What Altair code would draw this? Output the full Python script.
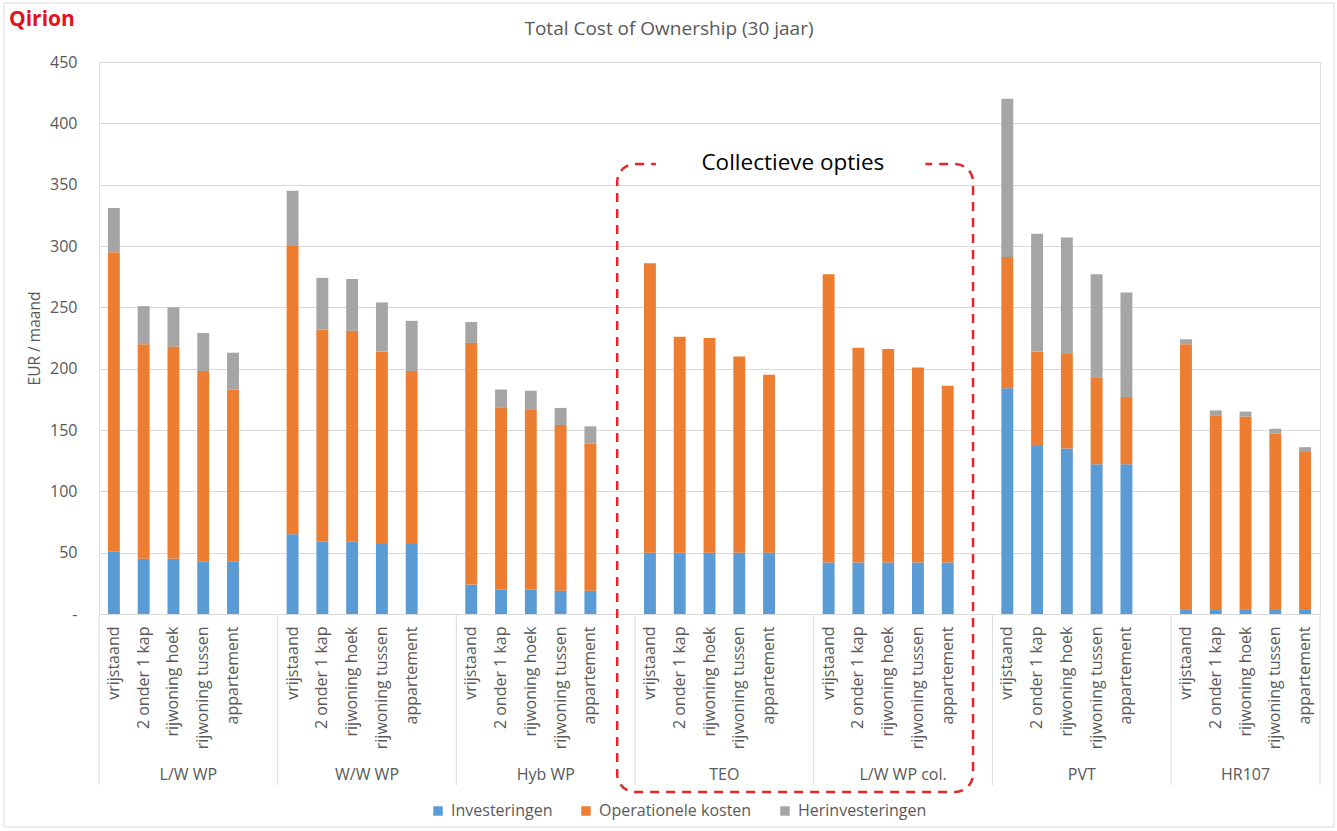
import altair as alt
import pandas as pd

groups = ["L/W WP", "W/W WP", "Hyb WP", "TEO", "L/W WP col.", "PVT", "HR107"]
housing = ["vrijstaand", "2 onder 1 kap", "rijwoning hoek", "rijwoning tussen", "appartement"]
series = ["Investeringen", "Operationele kosten", "Herinvesteringen"]
colors = ["#5b9bd5", "#ed7d31", "#a5a5a5"]

investeringen = [
    [51, 45, 45, 43, 43],
    [65, 59, 59, 57, 57],
    [24, 20, 20, 19, 19],
    [50, 50, 50, 50, 50],
    [42, 42, 42, 42, 42],
    [184, 137, 135, 122, 122],
    [4, 4, 4, 4, 4],
]
operationele_kosten = [
    [244, 175, 173, 155, 140],
    [235, 173, 172, 157, 141],
    [197, 148, 147, 135, 120],
    [236, 176, 175, 160, 145],
    [235, 175, 174, 159, 144],
    [107, 77, 77, 71, 55],
    [216, 158, 157, 143, 128],
]
herinvesteringen = [
    [36, 31, 32, 31, 30],
    [45, 42, 42, 40, 41],
    [17, 15, 15, 14, 14],
    [0, 0, 0, 0, 0],
    [0, 0, 0, 0, 0],
    [129, 96, 95, 84, 85],
    [4, 4, 4, 4, 4],
]

title_text = "Total Cost of Ownership (30 jaar)"
brand_text = "Qirion"
box_text = "Collectieve opties"
y_title = "EUR / maand"

FONT = "Open Sans"
GREY_TXT = "#595959"
GRID = "#d9d9d9"
RED = "#e3242b"

# ---- build table ----
slot_domain = []
rows = []
for gi, g in enumerate(groups):
    for ti, t in enumerate(housing):
        key = f"{g}|{t}"
        slot_domain.append(key)
        for si, (s, arr) in enumerate(zip(series, [investeringen, operationele_kosten, herinvesteringen])):
            v = arr[gi][ti]
            if v > 0:
                rows.append({"slot": key, "series": s, "value": v, "order": si})
    if gi < len(groups) - 1:
        slot_domain.append(f"gap{gi}")
df = pd.DataFrame(rows)
n_slots = len(slot_domain)

lin = alt.Scale(domain=[0, n_slots], nice=False, zero=False)

bars = alt.Chart(df).mark_bar().encode(
    x=alt.X(
        "slot:N",
        scale=alt.Scale(domain=slot_domain, paddingInner=0.6, paddingOuter=0.3),
        axis=alt.Axis(
            title=None, labelAngle=-90,
            labelExpr="indexof(datum.value,'|') >= 0 ? substring(datum.value, indexof(datum.value,'|')+1) : ''",
            labelFont=FONT, labelFontSize=16, labelColor=GREY_TXT, ticks=False, tickSize=0,
            domainColor=GRID, domainWidth=1, labelPadding=12, labelLimit=300, grid=False,
        ),
    ),
    y=alt.Y(
        "value:Q", stack="zero",
        scale=alt.Scale(domain=[0, 450], nice=False),
        axis=alt.Axis(
            values=list(range(0, 451, 50)),
            labelExpr="datum.value == 0 ? '-' : datum.label",
            grid=True, gridColor=GRID, gridWidth=1, domain=False, ticks=False, tickSize=0,
            labelPadding=22, labelFont=FONT, labelFontSize=16, labelColor=GREY_TXT,
            title=y_title, titleFont=FONT, titleFontSize=15.5, titleFontWeight="normal",
            titleColor=GREY_TXT, titlePadding=7,
        ),
    ),
    color=alt.Color(
        "series:N",
        scale=alt.Scale(domain=series, range=colors),
        legend=alt.Legend(
            title=None, orient="none", legendX=331, legendY=741, direction="horizontal",
            symbolType="square", symbolSize=90, symbolStrokeWidth=0,
            labelFont=FONT, labelFontSize=16, labelColor=GREY_TXT, columnPadding=25, labelOffset=5,
        ),
    ),
    order=alt.Order("order:Q", sort="ascending"),
)

# group separators and labels
edges = []
centers = []
for gi, g in enumerate(groups):
    start = gi * 6
    end = min(start + 6, n_slots)
    edges.append(start)
    centers.append({"pos": (start + end) / 2, "label": g})
edges.append(n_slots)
sep_df = pd.DataFrame({"pos": edges})
cen_df = pd.DataFrame(centers)

seps = alt.Chart(sep_df).mark_rule(color=GRID, strokeWidth=1).encode(
    x=alt.X("pos:Q", scale=lin, axis=None),
    y=alt.value(552),
    y2=alt.value(723),
)
glabels = alt.Chart(cen_df).mark_text(
    font=FONT, fontSize=16, color=GREY_TXT, baseline="middle"
).encode(
    x=alt.X("pos:Q", scale=lin, axis=None),
    y=alt.value(713),
    text="label:N",
)

box_df = pd.DataFrame({"x0": [17.4], "x1": [29.35]})
box = alt.Chart(box_df).mark_rect(
    fill="white", fillOpacity=0, stroke=RED, strokeWidth=2.5, strokeDash=[9, 7], cornerRadius=18
).encode(
    x=alt.X("x0:Q", scale=lin, axis=None),
    x2="x1:Q",
    y=alt.value(102),
    y2=alt.value(730),
)
gap_df = pd.DataFrame({"x0": [18.7], "x1": [27.75]})
gap = alt.Chart(gap_df).mark_rect(fill="white").encode(
    x=alt.X("x0:Q", scale=lin, axis=None),
    x2="x1:Q",
    y=alt.value(92),
    y2=alt.value(112),
)
box_lbl = alt.Chart(pd.DataFrame({"pos": [23.3], "t": [box_text]})).mark_text(
    font=FONT, fontSize=22.5, color="black", baseline="middle"
).encode(
    x=alt.X("pos:Q", scale=lin, axis=None),
    y=alt.value(101),
    text="t:N",
)

one = pd.DataFrame({"t": [title_text], "b": [brand_text]})
title = alt.Chart(one).mark_text(
    font=FONT, fontSize=19, color=GREY_TXT, baseline="middle", align="center"
).encode(x=alt.value(570), y=alt.value(-33), text="t:N")
brand = alt.Chart(one).mark_text(
    font=FONT, fontSize=21, fontWeight="bold", color="#e3101e", baseline="middle", align="left"
).encode(x=alt.value(-90), y=alt.value(-42), text="b:N")
border = alt.Chart(one).mark_rect(fill="white", fillOpacity=0, stroke=GRID, strokeWidth=1).encode(
    x=alt.value(-95), x2=alt.value(1235), y=alt.value(-59), y2=alt.value(765)
)

chart = alt.layer(
    border, bars, seps, glabels, box, gap, box_lbl, title, brand
).resolve_scale(x="independent").properties(
    width=1221, height=552,
    autosize=alt.AutoSizeParams(type="none"),
    padding={"left": 99, "top": 62, "right": 17, "bottom": 217},
).configure_view(stroke=None).configure(background="white")

chart.save("out.html", embed_options={"renderer": "svg", "actions": False})
